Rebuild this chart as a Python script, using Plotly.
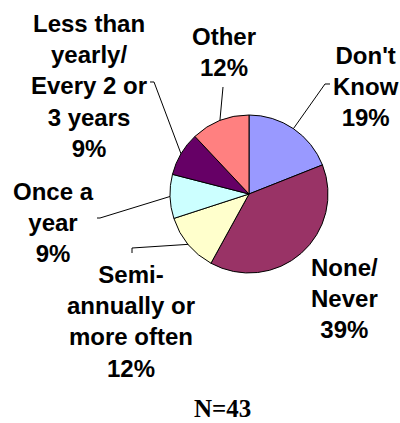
import math
import plotly.graph_objects as go

# Survey responses (share of respondents, %)
categories = [
    "Don't Know",
    "None/ Never",
    "Semi-annually or more often",
    "Once a year",
    "Less than yearly/ Every 2 or 3 years",
    "Other",
]
values = [19, 39, 12, 9, 9, 12]
label_lines = [
    ["Don't", "Know"],
    ["None/", "Never"],
    ["Semi-", "annually or", "more often"],
    ["Once a", "year"],
    ["Less than", "yearly/", "Every 2 or", "3 years"],
    ["Other"],
]
colors = ["#9999FF", "#993366", "#FFFFCC", "#CCFFFF", "#660066", "#FF8080"]
sample_note = "N=43"

W, H = 400, 423
CX, CY, R = 249, 194, 79  # pie centre / radius in pixels

# label placement (pixel centre of each text block) and leader-line elbows
label_pos = [(366, 87), (344, 298), (131, 321), (53, 222), (89, 86), (224, 52)]
leader_elbow = [
    [(325, 84), (330, 84)],
    None,
    [(132, 248), (132, 253)],
    [(100, 218), (97, 218)],
    [(154, 82), (150, 82)],
    [(223, 87)],
]


def px(x, y):
    return x / W, 1 - y / H


fig = go.Figure()
x0, y1 = px(CX - R, CY - R)
x1, y0 = px(CX + R, CY + R)
fig.add_trace(go.Pie(
    labels=categories,
    values=values,
    sort=False,
    direction="clockwise",
    rotation=0,
    marker=dict(colors=colors, line=dict(color="black", width=1)),
    textinfo="none",
    hoverinfo="label+percent",
    showlegend=False,
    domain=dict(x=[x0, x1], y=[y0, y1]),
))

font = dict(family="Liberation Sans, Arial, sans-serif", size=24, color="black")
total = sum(values)
cum = 0
shapes = []
annotations = []
for i, v in enumerate(values):
    mid = (cum + v / 2) / total * 2 * math.pi
    cum += v
    lx, ly = label_pos[i]
    text = "<br>".join(label_lines[i] + [f"{v}%"])
    xa, ya = px(lx, ly)
    annotations.append(dict(
        x=xa, y=ya, xref="paper", yref="paper", text=f"<b>{text}</b>",
        showarrow=False, xanchor="center", yanchor="middle", font=font, align="center",
    ))
    if leader_elbow[i]:
        sx = CX + R * math.sin(mid)
        sy = CY - R * math.cos(mid)
        pts = [(sx, sy)] + leader_elbow[i]
        path = "M " + " L ".join(f"{px(a, b)[0]:.5f},{px(a, b)[1]:.5f}" for a, b in pts)
        shapes.append(dict(type="path", path=path, xref="paper", yref="paper",
                           line=dict(color="black", width=1)))

nx, _ = px(222, 0)
annotations.append(dict(
    x=nx, y=0, xref="paper", yref="paper", text=f"<b>{sample_note}</b>",
    showarrow=False, xanchor="center", yanchor="bottom", borderpad=0,
    font=dict(family="Liberation Serif, Times New Roman, serif", size=25, color="black"),
))

fig.update_layout(
    width=W, height=H,
    margin=dict(l=0, r=0, t=0, b=0),
    paper_bgcolor="white",
    plot_bgcolor="white",
    annotations=annotations,
    shapes=shapes,
)

fig.write_html("out.html")
